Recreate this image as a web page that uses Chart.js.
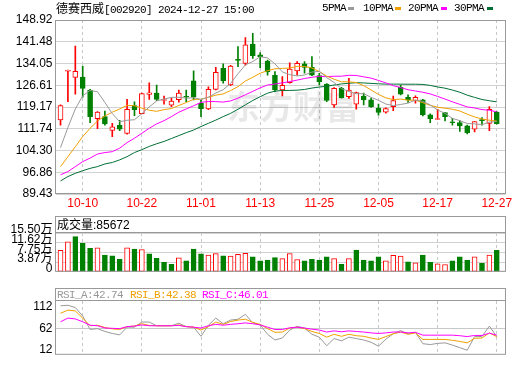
<!DOCTYPE html>
<html>
<head>
<meta charset="utf-8">
<title>德赛西威 日K</title>
<script src="https://cdn.jsdelivr.net/npm/chart.js@4.4.1/dist/chart.umd.min.js"></script>
<style>
  body { margin: 0; background: #fff; }
  #wrap { position: relative; width: 520px; height: 365px; overflow: hidden; background: #fff; }
  #wrap canvas { position: absolute; left: 0; }
  .t { position: absolute; white-space: nowrap; line-height: 14px; color: #000; }
  .mono { font-family: "Liberation Mono", monospace; font-size: 11px; letter-spacing: -0.6px; }
  .cjk { font-family: "Noto Sans CJK SC", sans-serif; font-size: 12px; }
  .sans { font-family: "Liberation Sans", Arial, sans-serif; font-size: 12px; }
  .sw { position: absolute; width: 6px; height: 3px; top: 7px; }
</style>
</head>
<body>
<div id="wrap">
  <canvas id="priceChart" width="520" height="212" style="top:0"></canvas>
  <canvas id="volChart" width="520" height="70" style="top:212px"></canvas>
  <canvas id="rsiChart" width="520" height="83" style="top:282px"></canvas>

  <div class="t" style="left:56px;top:1px"><span class="cjk">德赛西威</span><span class="mono">[002920] 2024-12-27 15:00</span></div>
  <div class="t mono" style="left:322px;top:1px">5PMA</div><div class="sw" style="left:348px;background:#999"></div>
  <div class="t mono" style="left:363px;top:1px">10PMA</div><div class="sw" style="left:395px;background:#f0a000"></div>
  <div class="t mono" style="left:408px;top:1px">20PMA</div><div class="sw" style="left:441px;background:#ff00ff"></div>
  <div class="t mono" style="left:454px;top:1px">30PMA</div><div class="sw" style="left:487px;background:#006f35"></div>

  <div class="t" style="left:57px;top:217px"><span class="cjk">成交量</span><span class="sans">:85672</span></div>

  <div class="t mono" style="left:57px;top:288px;color:#999">RSI_A:42.74</div>
  <div class="t mono" style="left:130px;top:288px;color:#f0a000">RSI_B:42.38</div>
  <div class="t mono" style="left:202px;top:288px;color:#ff00ff">RSI_C:46.01</div>
</div>

<script>
// ---- data ----
const dates = [
  '09-30', '10-08', '10-09', '10-10', '10-11', '10-14', '10-15', '10-16', '10-17', '10-18',
  '10-21', '10-22', '10-23', '10-24', '10-25', '10-28', '10-29', '10-30', '10-31', '11-01',
  '11-04', '11-05', '11-06', '11-07', '11-08', '11-11', '11-12', '11-13', '11-14', '11-15',
  '11-18', '11-19', '11-20', '11-21', '11-22', '11-25', '11-26', '11-27', '11-28', '11-29',
  '12-02', '12-03', '12-04', '12-05', '12-06', '12-09', '12-10', '12-11', '12-12', '12-13',
  '12-16', '12-17', '12-18', '12-19', '12-20', '12-23', '12-24', '12-25', '12-26', '12-27'
];
const xLabels = ['10-10', '10-22', '11-01', '11-13', '11-25', '12-05', '12-17', '12-27'];

const opens = [114.75, 131.4, 129.33, 129.4, 125.0, 115.2, 115.9, 111.2, 112.9, 110.1,
  119.65, 116.9, 123.5, 123.9, 121.4, 119.8, 121.7, 122.7, 128.1, 120.45,
  118.5, 125.2, 132.4, 126.7, 135.4, 134.1, 140.7, 137.0, 134.9, 130.0,
  125.0, 127.5, 131.5, 133.9, 132.75, 129.9, 127.05, 119.9, 125.6, 122.7,
  120.1, 122.95, 121.6, 118.75, 117.4, 119.3, 125.9, 122.5, 121.36, 121.6,
  116.5, 114.9, 117.3, 114.1, 113.85, 112.7, 111.56, 114.7, 113.6, 117.4];
const highs = [119.9, 131.8, 140.0, 133.2, 125.2, 117.6, 117.8, 113.6, 114.6, 121.8,
  120.9, 123.9, 127.4, 126.7, 122.95, 122.2, 125.0, 125.0, 131.5, 121.6,
  126.1, 132.7, 133.9, 133.4, 139.8, 142.9, 144.4, 137.8, 135.25, 131.3,
  129.6, 134.3, 134.7, 134.7, 136.4, 130.7, 127.2, 125.8, 125.9, 129.0,
  124.3, 123.9, 122.15, 120.2, 118.9, 122.95, 126.7, 123.3, 123.0, 121.8,
  116.8, 118.4, 117.3, 115.3, 114.5, 113.0, 114.2, 115.6, 119.3, 117.6];
const lows = [113.0, 121.0, 123.6, 122.5, 113.8, 111.8, 113.0, 109.05, 111.1, 109.85,
  116.2, 116.8, 121.8, 121.36, 120.1, 119.3, 120.8, 121.0, 121.6, 115.9,
  118.3, 125.0, 127.3, 126.5, 133.0, 133.5, 135.8, 132.6, 130.1, 124.4,
  122.95, 127.3, 130.1, 130.7, 129.9, 126.7, 121.0, 119.0, 122.2, 122.15,
  118.4, 119.9, 119.0, 116.35, 117.1, 117.9, 123.3, 120.7, 120.5, 116.1,
  113.8, 114.9, 114.4, 113.0, 110.8, 109.95, 110.65, 113.0, 111.1, 113.3];
const closes = [119.65, 131.7, 131.4, 125.5, 115.9, 117.4, 113.4, 112.4, 111.6, 118.4,
  118.3, 123.75, 124.0, 121.8, 121.6, 121.2, 123.9, 122.5, 122.5, 118.6,
  125.2, 131.0, 128.2, 133.2, 135.1, 140.4, 136.7, 136.4, 131.15, 125.0,
  126.6, 132.1, 134.1, 132.75, 130.1, 127.85, 121.4, 125.6, 122.4, 125.0,
  124.1, 121.6, 119.3, 117.3, 118.6, 121.4, 123.6, 121.6, 122.5, 116.5,
  115.2, 115.0, 115.9, 113.8, 112.7, 110.4, 114.2, 114.5, 118.4, 113.5];

const ma5 = [105.3, 112.2, 118.5, 123.0, 124.83, 124.38, 120.72, 116.92, 114.14, 114.64,
  114.82, 116.89, 119.21, 121.25, 121.89, 122.47, 122.5, 122.2, 122.34, 121.74,
  122.54, 123.96, 125.1, 127.24, 130.54, 133.58, 134.72, 136.36, 135.95, 133.93,
  131.17, 130.25, 129.79, 130.11, 131.13, 131.38, 129.24, 127.54, 125.47, 124.45,
  123.7, 123.74, 122.48, 121.46, 120.18, 119.64, 120.04, 120.5, 121.54, 121.12,
  119.88, 118.16, 117.02, 115.28, 114.52, 113.56, 113.4, 113.12, 114.04, 114.2];
const ma10 = [98.8, 102.2, 105.6, 109.06, 111.9, 114.4, 116.1, 117.4, 118.5, 119.74,
  119.6, 118.8, 118.07, 117.7, 118.27, 118.65, 119.7, 120.7, 121.8, 121.8,
  122.5, 123.23, 123.65, 124.79, 126.14, 128.06, 129.34, 130.73, 131.6, 132.24,
  132.38, 132.49, 133.08, 133.03, 132.53, 131.28, 129.75, 128.67, 127.79, 127.79,
  127.54, 126.49, 125.01, 123.47, 122.32, 121.67, 121.89, 121.49, 121.5, 120.65,
  119.76, 119.1, 118.76, 118.41, 117.82, 116.72, 115.78, 115.07, 114.66, 114.36];
const ma20 = [96.0, 97.1, 98.8, 100.5, 101.7, 103.1, 103.6, 103.9, 105.1, 107.0,
  108.5, 110.2, 111.9, 113.4, 114.5, 115.9, 117.4, 118.5, 119.6, 120.77,
  121.05, 121.02, 120.86, 121.25, 122.2, 123.36, 124.52, 125.72, 126.7, 127.02,
  127.44, 127.86, 128.37, 128.91, 129.34, 129.67, 129.55, 129.7, 129.7, 130.02,
  129.96, 129.49, 129.05, 128.25, 127.43, 126.48, 125.82, 125.08, 124.65, 124.22,
  123.65, 122.8, 121.89, 120.94, 120.07, 119.2, 118.84, 118.28, 118.08, 117.5];
const ma30 = [93.9, 95.4, 96.5, 97.4, 98.2, 98.8, 99.7, 100.2, 101.1, 102.2,
  103.6, 104.6, 105.7, 106.6, 107.4, 108.4, 109.4, 110.4, 111.3, 112.5,
  113.6, 114.7, 115.9, 117.0, 118.4, 119.9, 121.4, 122.7, 123.9, 124.6,
  124.83, 124.84, 124.93, 125.17, 125.65, 126.0, 126.26, 126.7, 127.06, 127.28,
  127.48, 127.4, 127.25, 127.1, 127.0, 127.0, 126.99, 126.96, 126.96, 126.89,
  126.56, 126.02, 125.61, 124.97, 124.22, 123.22, 122.47, 121.74, 121.31, 120.93];

// volume in 万 shares, and whether the bar is drawn red (1) or green (0)
const volumes = [8.59, 11.93, 14.05, 11.37, 9.37, 9.59, 6.69, 6.36, 5.02, 9.59,
  9.03, 8.92, 7.14, 5.35, 3.79, 3.01, 5.58, 4.35, 9.03, 7.14,
  6.69, 7.25, 6.36, 6.24, 7.02, 7.36, 6.02, 4.35, 4.68, 5.69,
  5.24, 7.25, 4.91, 4.35, 5.02, 4.68, 6.02, 5.24, 3.01, 5.24,
  8.70, 4.68, 4.35, 6.02, 4.35, 6.58, 6.24, 4.01, 3.57, 6.69,
  3.79, 3.23, 2.90, 4.35, 6.02, 4.68, 6.02, 3.35, 6.69, 8.57];
const volUp = [1, 1, 0, 0, 0, 1, 0, 0, 0, 1,
  0, 1, 0, 0, 0, 0, 1, 0, 0, 0,
  1, 1, 0, 1, 1, 1, 0, 0, 0, 0,
  1, 1, 1, 0, 0, 0, 0, 1, 0, 1,
  0, 0, 0, 0, 1, 1, 1, 0, 1, 0,
  0, 1, 1, 0, 0, 0, 1, 0, 1, 0];

const rsiA = [114.7, 116.0, 110.7, 90.7, 59.3, 61.3, 54.7, 50.0, 46.7, 64.7,
  64.7, 76.7, 76.7, 68.0, 68.0, 68.0, 74.0, 66.0, 64.7, 43.3,
  69.3, 86.0, 72.7, 81.3, 83.3, 94.7, 74.7, 70.0, 48.0, 34.7,
  39.3, 58.0, 66.7, 62.7, 48.0, 41.3, 21.3, 38.0, 32.7, 41.3,
  38.0, 34.7, 29.3, 20.0, 36.7, 49.3, 56.7, 49.3, 52.7, 26.0,
  24.0, 26.7, 28.0, 22.7, 16.7, 10.7, 42.7, 42.7, 67.3, 42.74];
const rsiB = [97.3, 104.7, 102.7, 86.0, 68.0, 69.3, 64.0, 60.7, 59.3, 66.0,
  67.3, 72.7, 68.7, 68.0, 68.0, 68.0, 70.0, 66.0, 64.7, 58.0,
  66.0, 76.7, 71.3, 78.0, 81.3, 83.3, 76.0, 71.3, 61.3, 52.7,
  53.3, 62.7, 64.7, 61.3, 54.7, 50.0, 41.3, 48.0, 43.3, 48.0,
  44.7, 43.3, 39.3, 36.0, 42.7, 49.3, 53.3, 48.0, 51.3, 36.0,
  36.0, 36.0, 36.0, 34.0, 31.3, 28.0, 38.7, 39.3, 51.3, 42.38];
const rsiC = [77.3, 86.0, 84.0, 77.3, 69.3, 68.0, 62.7, 62.0, 61.3, 66.0,
  67.3, 70.0, 68.0, 68.0, 68.0, 68.0, 68.7, 66.0, 64.7, 62.7,
  68.0, 71.3, 69.3, 71.3, 72.7, 74.7, 72.7, 70.0, 64.7, 59.3,
  59.3, 63.3, 64.7, 62.7, 60.0, 58.0, 53.3, 56.0, 54.0, 56.0,
  54.7, 53.3, 51.3, 50.0, 51.3, 53.3, 53.3, 51.3, 52.7, 46.0,
  46.0, 46.0, 46.0, 46.0, 44.7, 42.7, 45.3, 45.3, 50.7, 46.01];

const priceTicks = ['89.43', '96.86', '104.30', '111.74', '119.17', '126.61', '134.05', '141.48', '148.92'];
const volTicks = ['0', '3.87万', '7.75万', '11.62万', '15.50万'];
const rsiTicks = ['12', '62', '112'];

// ---- colours ----
const UP = '#ff0000';
const DOWN = '#008000';
const GRID = '#d2d2d2';

Chart.defaults.font.family = '"Liberation Sans", "Noto Sans CJK SC", sans-serif';
Chart.defaults.font.size = 12;
Chart.defaults.animation = false;

const xIdx = xLabels.map(d => dates.indexOf(d));
const pts = arr => arr.map((v, i) => ({ x: i, y: v }));

function xScale(showLabels) {
    return {
        type: 'linear',
        min: -0.68,
        max: 60.18,
        offset: false,
        afterBuildTicks: s => { s.ticks = xIdx.map(v => ({ value: v })); },
        afterFit: s => { s.height = showLabels ? 18 : 0; },
        grid: { color: '#c8c8c8', drawTicks: false, offset: false },
        border: { display: false, dash: [3, 3] },
        ticks: {
            display: showLabels, autoSkip: false, maxRotation: 0, padding: 2,
            color: UP, callback: v => dates[v]
        }
    };
}

function yScale(min, max, labels, extra) {
    return Object.assign({
        min: min,
        max: max,
        afterBuildTicks: s => { s.ticks = labels.map(t => ({ value: parseFloat(t) })); },
        afterFit: s => { s.width = 55.5; },
        grid: { color: GRID, drawTicks: false },
        border: { display: false },
        ticks: { autoSkip: false, padding: 3, color: '#000', callback: (v, i) => labels[i] }
    }, extra || {});
}

// box around each panel, with a header strip above the plot for vol / rsi
const panelBox = {
    id: 'panelBox',
    afterDraw(chart, args, opts) {
        const { ctx, chartArea: a } = chart;
        const top = opts.header != null ? opts.header : a.top;
        ctx.save();
        ctx.strokeStyle = '#999';
        ctx.lineWidth = 1;
        ctx.strokeRect(a.left, top + 0.5, a.right - a.left, a.bottom - top - 1);
        if (opts.header != null) {
            ctx.beginPath();
            ctx.moveTo(a.left, a.top - 0.5);
            ctx.lineTo(a.right, a.top - 0.5);
            ctx.stroke();
        }
        ctx.restore();
    }
};

const watermark = {
    id: 'watermark',
    beforeDatasetsDraw(chart) {
        const ctx = chart.ctx;
        ctx.save();
        ctx.font = 'bold 33px "Noto Sans CJK SC"';
        ctx.fillStyle = 'rgba(0, 0, 0, 0.09)';
        ctx.textAlign = 'center';
        ctx.textBaseline = 'middle';
        ctx.fillText('东方财富', 293, 106);
        ctx.restore();
    }
};

const common = {
    responsive: false,
    events: [],
    plugins: { legend: { display: false }, tooltip: { enabled: false } }
};

// ---- price panel ----
const isUp = closes.map((c, i) => c >= opens[i]);
const candleColor = isUp.map(u => u ? UP : DOWN);

function maLine(data, color, order) {
    return {
        type: 'line', data: pts(data), borderColor: color, borderWidth: 1,
        pointRadius: 0, tension: 0, fill: false, order: order
    };
}

new Chart(document.getElementById('priceChart'), {
    type: 'bar',
    data: {
        datasets: [
            maLine(ma5, '#999999', 1),
            maLine(ma10, '#f0a000', 2),
            maLine(ma20, '#ff00ff', 3),
            maLine(ma30, '#006f35', 4),
            {
                data: opens.map((o, i) => ({ x: i, y: [o, closes[i]] })),
                backgroundColor: isUp.map(u => u ? '#fff' : DOWN),
                borderColor: candleColor, borderWidth: 1, borderSkipped: false,
                barThickness: 5, grouped: false, minBarLength: 1, order: 5
            },
            {
                data: lows.map((l, i) => ({ x: i, y: [l, highs[i]] })),
                backgroundColor: candleColor,
                barThickness: 1, grouped: false, order: 6
            }
        ]
    },
    options: Object.assign({}, common, {
        layout: { padding: { top: 20, right: 14.5, bottom: 0, left: 0 } },
        scales: {
            x: xScale(true),
            y: yScale(89.43, 148.92, priceTicks, {})
        },
        plugins: Object.assign({}, common.plugins, { panelBox: {} })
    }),
    plugins: [watermark, panelBox]
});

// ---- volume panel ----
new Chart(document.getElementById('volChart'), {
    type: 'bar',
    data: {
        datasets: [{
            data: pts(volumes),
            backgroundColor: volUp.map(u => u ? '#fff' : DOWN),
            borderColor: volUp.map(u => u ? UP : DOWN),
            borderWidth: 1, borderSkipped: false, barThickness: 5
        }]
    },
    options: Object.assign({}, common, {
        layout: { padding: { top: 21, right: 14.5, bottom: 3, left: 0 } },
        scales: {
            x: xScale(false),
            y: yScale(0, 15.5, volTicks, {})
        },
        plugins: Object.assign({}, common.plugins, { panelBox: { header: 4 } })
    }),
    plugins: [panelBox]
});
Chart.getChart('volChart').options.scales.y.ticks.labelOffset = -3;
Chart.getChart('volChart').update();

// ---- RSI panel ----
function rsiLine(data, color, order) {
    return {
        data: pts(data), borderColor: color, borderWidth: 1,
        pointRadius: 0, tension: 0, fill: false, order: order
    };
}

new Chart(document.getElementById('rsiChart'), {
    type: 'line',
    data: {
        datasets: [
            rsiLine(rsiA, '#999999', 3),
            rsiLine(rsiB, '#f0a000', 2),
            rsiLine(rsiC, '#ff00ff', 1)
        ]
    },
    options: Object.assign({}, common, {
        layout: { padding: { top: 19, right: 14.5, bottom: 1, left: 0 } },
        scales: {
            x: xScale(false),
            y: yScale(0, 126, rsiTicks, {
                grid: {
                    drawTicks: false,
                    color: c => (c.tick && c.tick.value === 62) ? '#c8c8c8' : 'rgba(0,0,0,0)'
                }
            })
        },
        plugins: Object.assign({}, common.plugins, { panelBox: { header: 6 } })
    }),
    plugins: [panelBox]
});
</script>
</body>
</html>
